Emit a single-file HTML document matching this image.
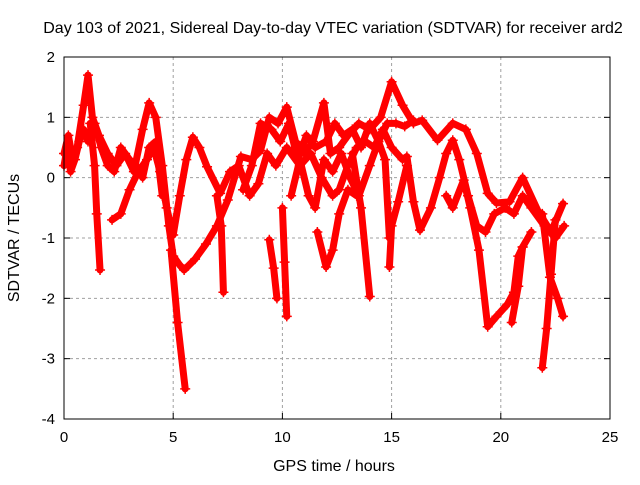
<!DOCTYPE html>
<html><head><meta charset="utf-8"><style>
body{margin:0;background:#fff}
svg text{font-family:"Liberation Sans",sans-serif;font-size:15px;fill:#000}
svg text.big{font-size:16px}
</style></head><body>
<svg id="chart" width="640" height="480">
<text class="big" x="333" y="33" text-anchor="middle">Day 103 of 2021, Sidereal Day-to-day VTEC variation (SDTVAR) for receiver ard2</text>
<text class="big" x="334" y="471" text-anchor="middle">GPS time / hours</text>
<text class="big" transform="translate(19,238) rotate(-90)" text-anchor="middle">SDTVAR / TECUs</text>
<g id="grid"></g><g id="marks"></g>
<rect x="64" y="57" width="546" height="362" fill="none" stroke="#000" stroke-width="1"/>
</svg>
<script>
const xTicks=[0,5,10,15,20,25];
const yTicks=[2,1,0,-1,-2,-3,-4];
const trackA=[[0,0.4],[0.2,0.7],[0.4,0.3],[0.6,0.5],[0.9,1.2],[1.1,1.7],[1.3,1.0],[1.6,0.7],[2.0,0.4],[2.4,0.2],[2.8,0.4],[3.2,0.1],[3.6,0.8],[3.9,1.24],[4.2,1.0],[4.5,0.2],[4.8,-0.8],[5.0,-1.3],[5.3,-1.45],[5.5,-1.53],[6.0,-1.35],[6.5,-1.1],[7.0,-0.8],[7.5,-0.37],[8.1,0.35],[8.6,0.3],[9.0,0.45],[9.4,1.0],[9.8,0.9],[10.2,1.17],[10.6,0.6],[11.0,0.4],[11.4,0.6],[11.9,1.24],[12.2,0.4],[12.6,0.5],[13.0,0.7],[13.5,0.9],[14.0,0.8],[14.5,1.0],[15.0,1.59],[15.5,1.2],[16.0,0.9],[16.4,0.95],[17.1,0.62],[17.8,0.9],[18.4,0.8],[18.9,0.4],[19.4,-0.26],[19.8,-0.42],[20.4,-0.4],[21.0,0],[21.7,-0.55],[22.3,-0.9],[22.85,-0.43]];
const trackB=[[1.2,0.9],[1.4,0.2],[1.5,-0.6],[1.65,-1.53]];
const trackC=[[2.2,-0.7],[2.6,-0.6],[3.0,-0.2],[3.4,0.1],[3.8,0.3],[4.1,0.5],[4.4,0.1],[4.7,-0.5],[5.0,-0.95],[5.3,-0.3],[5.6,0.3],[5.9,0.67],[6.2,0.5],[6.55,0.18],[7.15,-0.26],[7.6,0.1],[8.0,0.2],[8.5,-0.3],[8.9,-0.1],[9.3,0.4],[9.7,0.2],[10.2,0.5],[10.8,0.2],[11.3,0.4],[11.8,0.0],[12.3,-0.3],[12.6,-0.2],[13.0,0.2],[13.4,0.5],[13.8,0.6],[14.2,0.5],[14.6,0.8],[15.0,0.5],[15.5,0.3],[15.7,0.35],[16.0,-0.4],[16.3,-0.87],[16.8,-0.5],[17.2,0.0],[17.5,0.4],[17.8,0.62],[18.1,0.3],[18.5,-0.3],[18.9,-0.8],[19.3,-0.9],[19.7,-0.6],[20.2,-0.5],[20.6,-0.6],[21.0,-0.3],[21.4,-0.5],[22.0,-0.8],[22.5,-1.0],[22.9,-0.8]];
const trackD=[[4.9,-1.2],[5.2,-2.4],[5.55,-3.5]];
const trackE=[[7.0,-0.3],[7.2,-0.8],[7.3,-1.9]];
const trackF=[[9.4,-1.03],[9.6,-1.5],[9.75,-2.0]];
const trackF2=[[10.0,-0.5],[10.1,-1.4],[10.2,-2.3]];
const trackG=[[11.6,-0.9],[12.0,-1.48],[12.3,-1.2],[12.6,-0.6],[13.0,-0.2],[13.4,-0.3]];
const trackH=[[13.2,0.4],[13.6,-0.5],[14.0,-1.97]];
const trackI=[[14.9,-1.48],[15.0,-0.8],[15.3,-0.4],[15.7,0.2]];
const trackJ=[[17.5,-0.3],[17.8,-0.5],[18.3,-0.04],[18.6,-0.5],[19.0,-1.2],[19.4,-2.47],[19.8,-2.3],[20.3,-2.1],[20.6,-1.9],[20.8,-1.3],[21.0,-1.15],[21.4,-0.9]];
const trackK=[[20.5,-2.4],[20.8,-1.8],[21.0,-1.15]];
const trackL=[[21.9,-3.15],[22.1,-2.5],[22.3,-1.6],[22.5,-0.7]];
const trackM=[[21.9,-0.6],[22.25,-1.65],[22.6,-2.0],[22.85,-2.3]];
const trackN=[[0,0.2],[0.15,0.5],[0.3,0.1],[0.5,0.3],[0.7,0.6],[0.9,0.8],[1.1,0.6],[1.4,0.9],[1.7,0.5],[2.0,0.2],[2.3,0.1],[2.6,0.5],[3.0,0.3],[3.3,0.2],[3.6,0.0],[3.9,0.5],[4.2,0.6],[4.5,-0.3]];
const trackO=[[8.2,-0.2],[8.6,0.2],[9.0,0.9],[9.5,0.8],[9.9,0.6],[10.3,0.9],[10.7,0.3],[11.1,0.7],[11.5,0.5],[12.0,0.6],[12.4,0.9],[12.8,0.7],[13.2,0.8],[13.6,0.5],[14.0,0.9],[14.4,0.6],[14.8,0.9],[15.2,0.9],[15.6,0.85],[16.0,0.95]];
const trackP=[[10.4,-0.3],[10.8,0.3],[11.2,-0.3],[11.5,-0.5],[11.9,0.3],[12.3,0.1],[12.7,0.4],[13.1,0.0],[13.5,-0.3],[14.0,0.2],[14.4,0.6],[14.7,0.3],[14.9,-1.0]];
const tracks=[trackA,trackB,trackC,trackD,trackE,trackF,trackF2,trackG,trackH,trackI,trackJ,trackK,trackL,trackM,trackN,trackO,trackP];

const X0=64,X1=610,Y0=419,Y1=57;
const xs=v=>X0+(v-0)/(25-0)*(X1-X0);
const ys=v=>Y0-(v+4)/(6)*(Y0-Y1);
const NS="http://www.w3.org/2000/svg";
const grid=document.getElementById('grid'),marks=document.getElementById('marks');
function mk(t,a,p){const e=document.createElementNS(NS,t);for(const k in a)e.setAttribute(k,a[k]);p.appendChild(e);return e;}
xTicks.forEach(t=>{const x=xs(t);
 if(t>0&&t<25){const l=mk('line',{x1:x,x2:x,y1:Y1,y2:Y0,stroke:'#a0a0a0','stroke-dasharray':'3,3'},grid);
 
 }
 const tk=mk('line',{x1:x,x2:x,y1:Y0,y2:Y0-6,stroke:'#000'},grid);
 
 
 const tx=mk('text',{x:x,y:Y0+23,'text-anchor':'middle'},grid);tx.textContent=t;
 
 
});
yTicks.forEach(t=>{const y=ys(t);
 if(t>-4&&t<2){const l=mk('line',{x1:X0,x2:X1,y1:y,y2:y,stroke:'#a0a0a0','stroke-dasharray':'3,3'},grid);
 
 }
 const tk=mk('line',{x1:X0,x2:X0+6,y1:y,y2:y,stroke:'#000'},grid);
 
 
 const tk2=mk('line',{x1:X1,x2:X1-6,y1:y,y2:y,stroke:'#000'},grid);
 
 
 const tx=mk('text',{x:X0-9,y:y+5,'text-anchor':'end'},grid);tx.textContent=t;
 
 
});
tracks.forEach((tr,i)=>{
 const pl=mk('polyline',{points:tr.map(p=>xs(p[0])+','+ys(p[1])).join(' '),fill:'none',stroke:'#ff0000','stroke-width':7,'stroke-linejoin':'round','stroke-linecap':'round'},marks);
 
 
 tr.forEach(p=>{const x=xs(p[0]),y=ys(p[1]);
  const m=mk('path',{d:`M${x-5},${y}H${x+5}M${x},${y-5}V${y+5}`,stroke:'#ff0000','stroke-width':1.5},marks);
  
  
 });
});
</script>
</body></html>
